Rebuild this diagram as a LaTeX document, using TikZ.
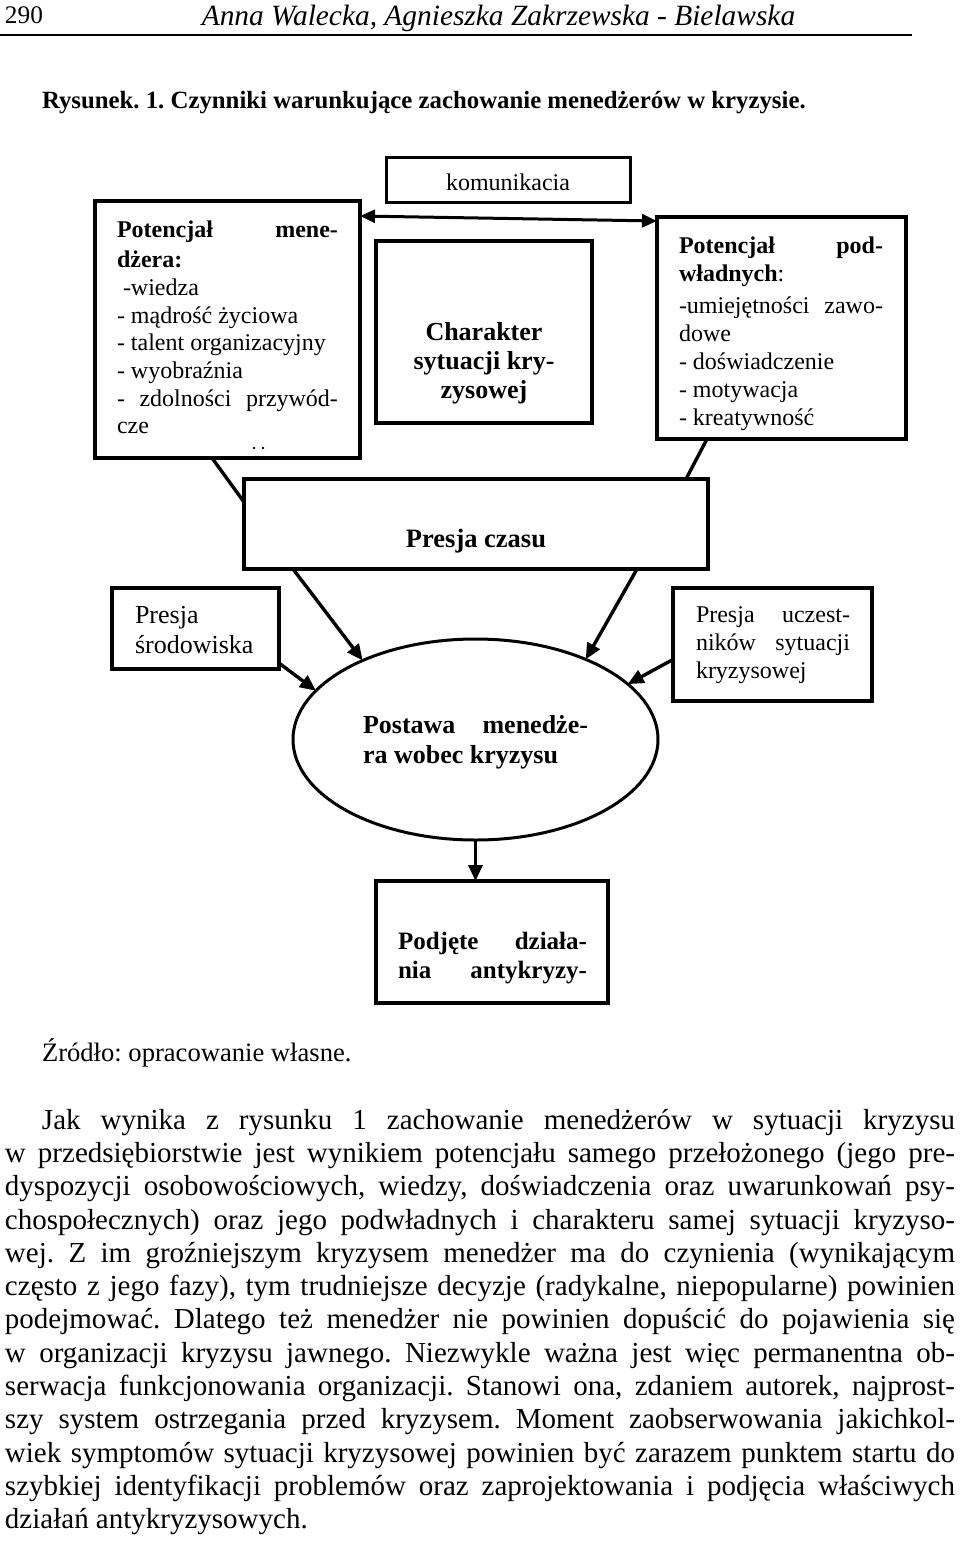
\documentclass[tikz,border=0pt]{standalone}
\usepackage{fontspec}
\setmainfont{Liberation Serif}
\usetikzlibrary{arrows.meta,shapes.geometric}
\newcommand{\bxf}{\fontsize{24}{27.7}\selectfont}
\tikzset{
  boxn/.style={draw, line width=3.4pt, rectangle, inner sep=0pt, outer sep=0pt},
  txt/.style={anchor=base west, inner sep=0pt, outer sep=0pt},
  conn/.style={line width=3.4pt},
  arr/.style={line width=3.4pt, -{Triangle[length=16pt,width=14pt]}},
  dbl/.style={line width=3pt, {Triangle[length=15pt,width=13pt]}-{Triangle[length=15pt,width=13pt]}}
}
\begin{document}
\frenchspacing
\begin{tikzpicture}[x=1pt,y=-1pt]
\useasboundingbox (0,0) rectangle (960,1543);
\fill[white] (0,0) rectangle (960,1543);
% header
\node[txt] (pagenum) at (5,23) {\fontsize{25.3}{28}\selectfont 290};
\node[anchor=base, inner sep=0pt] (authors) at (498.5,25) {\fontsize{29.4}{32}\selectfont\itshape Anna Walecka, Agnieszka Zakrzewska - Bielawska};
\draw[line width=1.8pt] (0,35) -- (912,35);
\node[txt] (caption) at (42,108) {\fontsize{24.8}{28}\selectfont\bfseries Rysunek. 1. Czynniki warunkujące zachowanie menedżerów w kryzysie.};
% boxes
\node[boxn, minimum width=265pt, minimum height=257pt] (men) at (227.5,329.5) {};
\node[boxn, line width=3pt, minimum width=244pt, minimum height=45pt] (kom) at (508,179.5) {};
\node[boxn, minimum width=216pt, minimum height=182pt] (char) at (484,332) {};
\node[boxn, minimum width=249pt, minimum height=222pt] (pw) at (781.5,328) {};
\node[boxn, minimum width=464pt, minimum height=90pt] (czas) at (476,524) {};
\node[boxn, minimum width=167pt, minimum height=81pt] (sro) at (195.5,628.5) {};
\node[boxn, minimum width=199pt, minimum height=113pt] (ucz) at (772.5,644.5) {};
\node[draw, ellipse, line width=3pt, minimum width=365pt, minimum height=201pt, inner sep=0pt, outer sep=0pt] (ell) at (475.5,739.5) {};
\node[boxn, minimum width=232pt, minimum height=122pt] (pod) at (492,942) {};
% texts
\node[txt] (men-t) at (117,237) {\parbox[t]{221pt}{\bxf
  \textbf{Potencjał\hfill mene-}\\[3pt]
  \textbf{dżera:}\\
  \hspace*{6pt}-wiedza\\
  - mądrość życiowa\\
  - talent organizacyjny\\
  - wyobraźnia\\
  -\hfill zdolności\hfill przywód-\\
  cze}};
\fill (men.south west) ++(159pt,10pt) circle (1.3pt) (men.south west) ++(168pt,10pt) circle (1.3pt);
\node[anchor=base, inner sep=0pt] (kom-t) at (508,190) {\fontsize{24}{27}\selectfont komunikacia};
\node[anchor=base, inner sep=0pt] (char-t) at (484,340) {\parbox[t]{216pt}{\centering\fontsize{26}{29}\selectfont\bfseries
  Charakter\\ sytuacji kry-\\ zysowej}};
\node[txt] (pw-t) at (679,253) {\parbox[t]{204pt}{\fontsize{24}{28}\selectfont
  \textbf{Potencjał\hfill pod-}\\
  \textbf{władnych}:\\[4pt]
  -umiejętności\hfill zawo-\\
  dowe\\
  - doświadczenie\\
  - motywacja\\
  - kreatywność}};
\node[anchor=base, inner sep=0pt] (czas-t) at (476,547) {\fontsize{26.5}{30}\selectfont\bfseries Presja czasu};
\node[txt] (sro-t) at (135,623) {\parbox[t]{140pt}{\fontsize{26}{30}\selectfont Presja\\ środowiska}};
\node[txt] (ucz-t) at (696,622) {\parbox[t]{154pt}{\fontsize{24}{28}\selectfont
  Presja\hfill uczest-\\ ników\hfill sytuacji\\ kryzysowej}};
\node[txt] (ell-t) at (363,733) {\parbox[t]{225pt}{\fontsize{26}{30}\selectfont\bfseries
  Postawa\hfill menedże-\\ ra wobec kryzysu}};
\node[txt] (pod-t) at (398,949) {\parbox[t]{189pt}{\fontsize{25}{29}\selectfont\bfseries
  Podjęte\hfill działa-\\ nia\hfill antykryzy-}};
% connectors
\draw[conn] ([xshift=117pt]men.south west) -- ([yshift=-23pt]czas.north west);
\draw[conn] ([xshift=50pt]pw.south west) -- ([xshift=-22pt]czas.north east);
\draw[dbl] ([yshift=-15pt]men.north east) -- ([yshift=-4pt]pw.north west);
\draw[arr] ([xshift=49pt]czas.south west) -- (ell.145);
\draw[arr] ([xshift=-71pt]czas.south east) -- (ell.36);
\draw[arr] ([yshift=6pt]sro.south east) -- (ell.163);
\draw[arr] ([yshift=-15pt]ucz.west) -- (ell.20);
\draw[arr] (ell.south) -- (ell.south |- pod.north);
% source
\node[txt] (src) at (42,1061) {\fontsize{26.6}{30}\selectfont Źródło: opracowanie własne.};
% body text
\node[txt] (body) at (5,1129) {\parbox[t]{950pt}{\fontsize{29}{33.33}\selectfont
\makebox[950pt][s]{\hspace*{37pt}Jak wynika z rysunku 1 zachowanie menedżerów w sytuacji kryzysu}\\
\makebox[950pt][s]{w przedsiębiorstwie jest wynikiem potencjału samego przełożonego (jego pre-}\\
\makebox[950pt][s]{dyspozycji osobowościowych, wiedzy, doświadczenia oraz uwarunkowań psy-}\\
\makebox[950pt][s]{chospołecznych) oraz jego podwładnych i charakteru samej sytuacji kryzyso-}\\
\makebox[950pt][s]{wej. Z im groźniejszym kryzysem menedżer ma do czynienia (wynikającym}\\
\makebox[950pt][s]{często z jego fazy), tym trudniejsze decyzje (radykalne, niepopularne) powinien}\\
\makebox[950pt][s]{podejmować. Dlatego też menedżer nie powinien dopuścić do pojawienia się}\\
\makebox[950pt][s]{w organizacji kryzysu jawnego. Niezwykle ważna jest więc permanentna ob-}\\
\makebox[950pt][s]{serwacja funkcjonowania organizacji. Stanowi ona, zdaniem autorek, najprost-}\\
\makebox[950pt][s]{szy system ostrzegania przed kryzysem. Moment zaobserwowania jakichkol-}\\
\makebox[950pt][s]{wiek symptomów sytuacji kryzysowej powinien być zarazem punktem startu do}\\
\makebox[950pt][s]{szybkiej identyfikacji problemów oraz zaprojektowania i podjęcia właściwych}\\
działań antykryzysowych.}};
\end{tikzpicture}
\end{document}
